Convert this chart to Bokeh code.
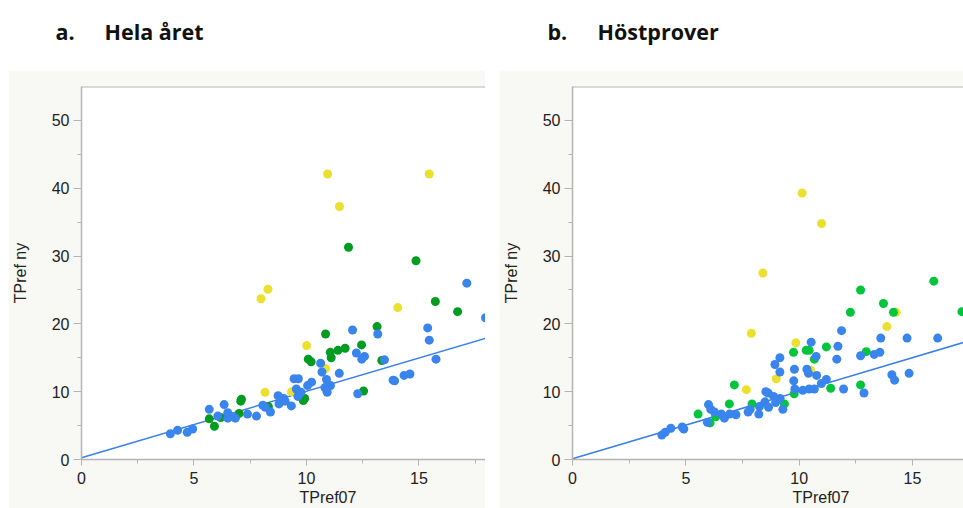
from bokeh.plotting import figure
from bokeh.models import Range1d, FixedTicker, Span, Title, Spacer
from bokeh.layouts import column, row
from bokeh.core.properties import value
from bokeh.embed import file_html
from bokeh.resources import INLINE

# ---------------- data ----------------
titles = ["a.", "Hela året", "b.", "Höstprover"]
x_label = "TPref07"
y_label = "TPref ny"
x_ticks = [0, 5, 10, 15]
x_minor = [2.5, 7.5, 12.5, 17.5]
y_ticks = [0, 10, 20, 30, 40, 50]
y_minor = [5, 15, 25, 35, 45]

# panel a: Hela året
a_yellow_x = [10.94, 15.46, 11.47, 8.29, 7.98, 14.06, 10.01, 10.85, 8.16, 9.34]
a_yellow_y = [42.1, 42.1, 37.3, 25.1, 23.7, 22.4, 16.8, 13.4, 9.9, 10.0]
a_green_x = [11.87, 14.87, 15.73, 16.72, 13.14, 10.85, 12.45, 11.72, 11.40, 11.06,
             11.10, 10.08, 10.21, 13.35, 12.54, 10.91, 9.92, 9.86, 7.11, 7.08,
             8.31, 7.01, 5.68, 6.19, 5.91]
a_green_y = [31.3, 29.3, 23.3, 21.8, 19.6, 18.5, 16.9, 16.4, 16.1, 15.8,
             15.0, 14.8, 14.4, 14.6, 10.1, 10.3, 9.0, 8.7, 8.9, 8.6,
             7.8, 6.8, 6.0, 6.2, 4.9]
a_blue_x = [17.13, 17.96, 12.05, 13.17, 15.39, 15.46, 12.22, 12.58, 12.46, 13.47,
            10.63, 10.69, 11.46, 15.76, 10.89, 9.45, 9.64, 10.23, 10.05, 11.07,
            10.82, 10.92, 12.28, 13.85, 13.92, 14.34, 14.60, 9.55, 9.76, 9.62,
            8.74, 8.99, 9.05, 8.78, 9.33, 8.06, 8.17, 8.40, 7.38, 7.78,
            6.34, 5.68, 6.06, 6.50, 6.50, 6.73, 6.84, 3.95, 4.27, 4.70, 4.94]
a_blue_y = [26.0, 20.9, 19.1, 18.5, 19.4, 17.6, 15.7, 15.2, 14.8, 14.7,
            14.2, 12.9, 12.7, 14.8, 11.8, 11.9, 11.9, 11.4, 10.9, 10.9,
            10.6, 9.9, 9.7, 11.7, 11.6, 12.4, 12.6, 10.4, 9.9, 9.3,
            9.4, 9.0, 8.6, 8.2, 7.9, 8.0, 7.7, 7.0, 6.7, 6.4,
            8.1, 7.4, 6.4, 6.9, 6.1, 6.3, 6.1, 3.8, 4.3, 4.0, 4.5]
a_fit_x = [0, 18]
a_fit_y = [0.25, 17.9]

# panel b: Höstprover
b_yellow_x = [10.13, 10.99, 8.40, 7.89, 9.85, 13.87, 14.28, 10.50, 8.99, 7.67]
b_yellow_y = [39.3, 34.8, 27.5, 18.6, 17.2, 19.6, 21.7, 13.2, 11.9, 10.3]
b_green_x = [15.94, 12.71, 13.72, 14.16, 12.26, 17.18, 11.20, 9.75, 10.31, 10.44,
             10.67, 12.96, 7.14, 12.71, 11.39, 9.78, 6.92, 7.92, 9.35, 5.54,
             6.32, 6.07]
b_green_y = [26.3, 25.0, 23.0, 21.7, 21.7, 21.8, 16.6, 15.8, 16.1, 16.1,
             14.8, 15.9, 11.0, 11.0, 10.5, 9.7, 8.2, 8.2, 8.2, 6.7,
             6.3, 5.4]
b_blue_x = [17.45, 10.53, 11.87, 11.71, 11.66, 13.60, 14.76, 16.11, 12.71, 13.31,
            13.56, 9.15, 8.93, 9.15, 9.79, 10.34, 10.41, 10.75, 10.77, 11.20,
            10.98, 14.09, 14.21, 14.85, 11.96, 12.86, 9.76, 9.81, 10.16, 10.44,
            10.67, 8.53, 8.63, 8.87, 9.16, 8.96, 8.65, 9.28, 8.49, 8.22,
            7.75, 7.84, 8.25, 6.00, 6.10, 6.26, 6.57, 6.70, 6.93, 7.21,
            5.95, 3.94, 4.09, 4.34, 4.84, 4.91]
b_blue_y = [34.8, 17.3, 19.0, 16.7, 14.8, 17.9, 17.9, 17.9, 15.3, 15.5,
            15.8, 15.0, 14.0, 12.9, 13.3, 13.3, 12.7, 15.2, 12.4, 11.8,
            11.2, 12.5, 11.7, 12.7, 10.4, 9.8, 11.6, 10.4, 10.2, 10.4,
            10.4, 10.0, 9.8, 9.3, 9.0, 8.4, 7.7, 7.4, 8.5, 6.7,
            7.0, 7.4, 7.8, 8.1, 7.4, 7.0, 6.7, 6.1, 6.7, 6.6,
            5.5, 3.6, 4.0, 4.6, 4.8, 4.5]
b_fit_x = [0, 18]
b_fit_y = [0.1, 18.0]

# ---------------- styles ----------------
PANEL_BG = "#f8f8f4"
AXIS_GREY = "#b4b4b4"
BLUE = "#3a84ee"
LINE_BLUE = "#3a80e8"
YELLOW = "#ece02e"
GREEN_A = "#009c22"
GREEN_B = "#00c43c"
FONT = "Liberation Sans"

# title strip
t = figure(width=963, height=70, x_range=Range1d(0, 963), y_range=Range1d(70, 0),
           toolbar_location=None, output_backend="svg", min_border=0)
t.axis.visible = False
t.grid.visible = False
t.outline_line_color = None
t.background_fill_color = "white"
t.border_fill_color = "white"
t.text(x=[55, 104, 547, 597], y=[31, 31, 31, 31], text=titles,
       text_font=value("Open Sans"), text_font_style="bold", text_font_size="21.5px",
       text_color="#111111", text_baseline="alphabetic", text_align="left")


def panel(width, x_end, y_end, bottom, yx, yy, gx, gy, bx, by, fx, fy, green, label_offset):
    p = figure(width=width, height=438, x_range=Range1d(0, x_end), y_range=Range1d(0, y_end),
               toolbar_location=None, output_backend="svg",
               min_border_left=72, min_border_right=0, min_border_top=16,
               min_border_bottom=bottom)
    p.background_fill_color = "white"
    p.border_fill_color = PANEL_BG
    p.outline_line_color = None
    p.grid.visible = False
    for ax, tk, mn in ((p.xaxis[0], x_ticks, x_minor), (p.yaxis[0], y_ticks, y_minor)):
        ax.ticker = FixedTicker(ticks=tk, minor_ticks=mn)
        ax.axis_line_color = AXIS_GREY
        ax.axis_line_width = 1.5
        ax.major_tick_line_color = AXIS_GREY
        ax.minor_tick_line_color = AXIS_GREY
        ax.major_tick_in = 0
        ax.minor_tick_in = 0
        ax.major_label_text_font = FONT
        ax.major_label_text_font_size = "16px"
        ax.major_label_text_color = "#222222"
        ax.axis_label_text_font = FONT
        ax.axis_label_text_font_size = "16px"
        ax.axis_label_text_font_style = "normal"
        ax.axis_label_text_color = "#222222"
    p.yaxis.major_tick_out = 8
    p.yaxis.minor_tick_out = 4
    p.xaxis.major_tick_out = 6
    p.xaxis.minor_tick_out = 4
    p.xaxis.major_label_standoff = 6
    p.yaxis.major_label_standoff = 4
    p.yaxis.axis_label = y_label
    p.yaxis.axis_label_standoff = 20
    p.add_layout(Span(location=y_end, dimension="width", line_color=AXIS_GREY, line_width=2))
    # x-axis title, shifted right as in the original (cropped) chart
    p.add_layout(Title(text=x_label, align="left", offset=label_offset, standoff=0,
                       text_font=FONT, text_font_size="16px", text_font_style="normal",
                       text_color="#222222"), "below")
    p.line(fx, fy, line_color=LINE_BLUE, line_width=1.5)
    p.scatter(yx, yy, size=9, marker="circle", fill_color=YELLOW, line_color=None)
    p.scatter(gx, gy, size=9, marker="circle", fill_color=green, line_color=None)
    p.scatter(bx, by, size=9, marker="circle", fill_color=BLUE, line_color=None)
    return p


pa = panel(477, 17.96, 55, 49, a_yellow_x, a_yellow_y, a_green_x, a_green_y,
           a_blue_x, a_blue_y, a_fit_x, a_fit_y, GREEN_A, 218)
pb = panel(464, 17.25, 55, 48, b_yellow_x, b_yellow_y, b_green_x, b_green_y,
           b_blue_x, b_blue_y, b_fit_x, b_fit_y, GREEN_B, 220)

layout = column(t, row(Spacer(width=8, height=438), pa, Spacer(width=14, height=438), pb))

open("out.html", "w").write(file_html(layout, INLINE))
